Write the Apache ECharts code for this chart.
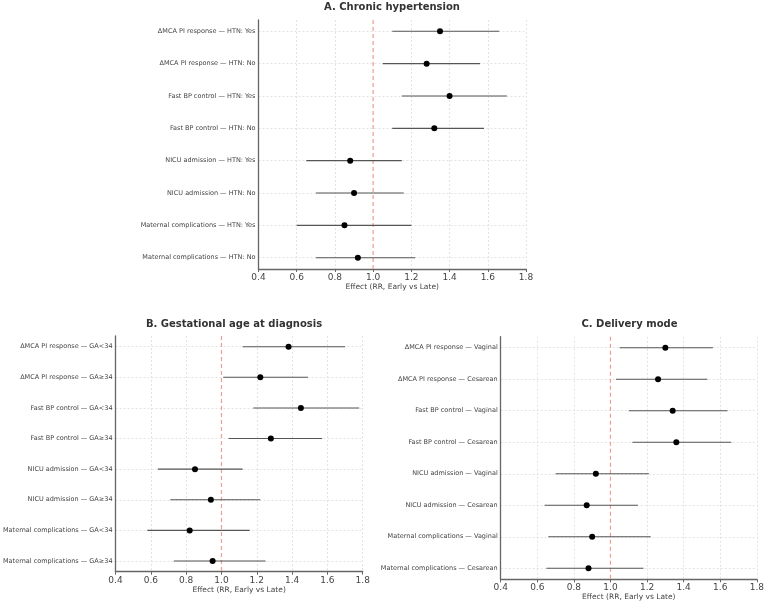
<!DOCTYPE html>
<html><head><meta charset="utf-8">
<script src="https://cdn.jsdelivr.net/npm/echarts@6/dist/echarts.min.js"></script>
<style>html,body{margin:0;padding:0;background:#fff}#c{width:767px;height:603px}</style>
</head><body><div id="c"></div>
<script>
const xTicks = [0.4, 0.6, 0.8, 1.0, 1.2, 1.4, 1.6, 1.8];
const refValue = 1.0;
const titleA = "A. Chronic hypertension";
const titleB = "B. Gestational age at diagnosis";
const titleC = "C. Delivery mode";
const xName = "Effect (RR, Early vs Late)";

const catsA = ["ΔMCA PI response — HTN: Yes","ΔMCA PI response — HTN: No","Fast BP control — HTN: Yes","Fast BP control — HTN: No","NICU admission — HTN: Yes","NICU admission — HTN: No","Maternal complications — HTN: Yes","Maternal complications — HTN: No"];
const estA  = [1.35, 1.28, 1.40, 1.32, 0.88, 0.90, 0.85, 0.92];
const lowA  = [1.10, 1.05, 1.15, 1.10, 0.65, 0.70, 0.60, 0.70];
const highA = [1.66, 1.56, 1.70, 1.58, 1.15, 1.16, 1.20, 1.22];

const catsB = ["ΔMCA PI response — GA<34","ΔMCA PI response — GA≥34","Fast BP control — GA<34","Fast BP control — GA≥34","NICU admission — GA<34","NICU admission — GA≥34","Maternal complications — GA<34","Maternal complications — GA≥34"];
const estB  = [1.38, 1.22, 1.45, 1.28, 0.85, 0.94, 0.82, 0.95];
const lowB  = [1.12, 1.01, 1.18, 1.04, 0.64, 0.71, 0.58, 0.73];
const highB = [1.70, 1.49, 1.78, 1.57, 1.12, 1.22, 1.16, 1.25];

const catsC = ["ΔMCA PI response — Vaginal","ΔMCA PI response — Cesarean","Fast BP control — Vaginal","Fast BP control — Cesarean","NICU admission — Vaginal","NICU admission — Cesarean","Maternal complications — Vaginal","Maternal complications — Cesarean"];
const estC  = [1.30, 1.26, 1.34, 1.36, 0.92, 0.87, 0.90, 0.88];
const lowC  = [1.05, 1.03, 1.10, 1.12, 0.70, 0.64, 0.66, 0.65];
const highC = [1.56, 1.53, 1.64, 1.66, 1.21, 1.15, 1.22, 1.18];

const FONT = "DejaVu Sans";
const panels = [
  {cats: catsA, est: estA, low: lowA, high: highA, grid: {left: 258.5, right: 241, top: 20, bottom: 334}, title: titleA, tx: 392, ty: 7},
  {cats: catsB, est: estB, low: lowB, high: highB, grid: {left: 105, right: 404.3, top: 336, bottom: 31.3}, title: titleB, tx: 234, ty: 324},
  {cats: catsC, est: estC, low: lowC, high: highC, grid: {left: 500.7, right: 8.7, top: 336.7, bottom: 23.7}, title: titleC, tx: 629.5, ty: 324}
];

const GRIDC = '#dcdcdc';
const grid = [], xAxis = [], yAxis = [], series = [], graphic = [];
panels.forEach((p, i) => {
  grid.push(p.grid);
  xAxis.push({
    type: 'value', gridIndex: i, min: xTicks[0], max: xTicks[xTicks.length - 1], interval: 0.2,
    axisLine: {show: true, onZero: false, lineStyle: {color: '#666', width: 1.3}},
    axisTick: {show: true, length: 3, lineStyle: {color: '#666'}},
    axisLabel: {fontFamily: FONT, fontSize: 9, color: '#444', margin: 4, formatter: v => v.toFixed(1)},
    splitLine: {show: true, lineStyle: {
      color: xTicks.map(t => Math.abs(t - refValue) < 1e-9 ? 'rgba(0,0,0,0)' : GRIDC),
      type: [2, 2], width: 0.8}},
    name: xName, nameLocation: 'middle', nameGap: 13,
    nameTextStyle: {fontFamily: FONT, fontSize: 7.5, color: '#444'}
  });
  const idx = p.cats.map((c, k) => k);
  yAxis.push({
    type: 'value', gridIndex: i, min: -0.35, max: 7.35, inverse: true,
    axisLine: {show: true, onZero: false, lineStyle: {color: '#666', width: 1.3}},
    axisTick: {show: false, customValues: idx},
    axisLabel: {customValues: idx, fontFamily: FONT, fontSize: 6.5, color: '#444', margin: 3,
      formatter: v => p.cats[Math.round(v)] || ''},
    splitLine: {show: true, lineStyle: {color: GRIDC, type: [2, 2], width: 0.8}}
  });
  series.push({
    type: 'custom', xAxisIndex: i, yAxisIndex: i, z: 5, silent: true,
    data: [[refValue, -0.35, 7.35]],
    encode: {x: 0, y: [1, 2]},
    renderItem: (params, api) => {
      const a = api.coord([api.value(0), api.value(1)]);
      const b = api.coord([api.value(0), api.value(2)]);
      return {type: 'line', shape: {x1: a[0], y1: a[1], x2: a[0], y2: b[1]},
        style: {stroke: '#ef9d92', lineWidth: 1.2, lineDash: [4, 3]}};
    }
  });
  series.push({
    type: 'custom', xAxisIndex: i, yAxisIndex: i, z: 6,
    data: p.cats.map((c, k) => [p.low[k], p.high[k], k]),
    encode: {x: [0, 1], y: 2},
    renderItem: (params, api) => {
      const a = api.coord([api.value(0), api.value(2)]);
      const b = api.coord([api.value(1), api.value(2)]);
      return {type: 'line', shape: {x1: a[0], y1: a[1], x2: b[0], y2: b[1]},
        style: {stroke: '#555', lineWidth: 1.1}};
    }
  });
  series.push({
    type: 'scatter', xAxisIndex: i, yAxisIndex: i, z: 7,
    symbolSize: 6, itemStyle: {color: '#000', opacity: 1},
    data: p.cats.map((c, k) => [p.est[k], k])
  });
  graphic.push({type: 'text', x: p.tx, y: p.ty,
    style: {text: p.title, textAlign: 'center', textVerticalAlign: 'middle',
      font: 'bold 10px "DejaVu Sans"', fill: '#333'}});
});

const chart = echarts.init(document.getElementById('c'), null, {renderer: 'canvas'});
chart.setOption({animation: false, backgroundColor: '#fff', grid, xAxis, yAxis, series, graphic});
</script>
</body></html>
